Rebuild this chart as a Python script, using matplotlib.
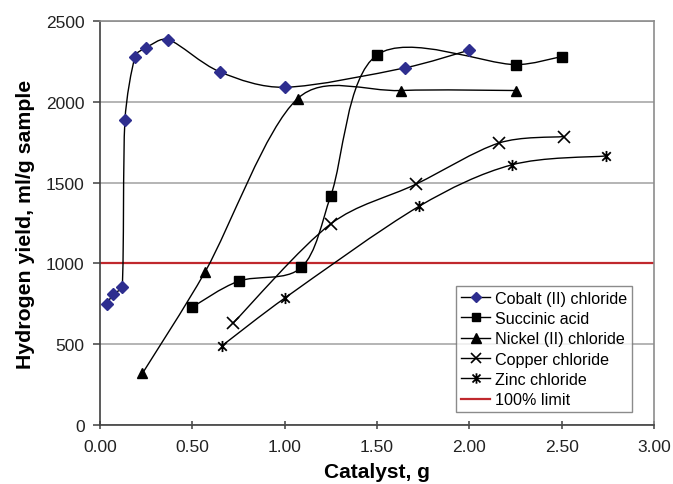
import numpy as np
import matplotlib
matplotlib.use("Agg")
import matplotlib.pyplot as plt
from matplotlib.path import Path
from matplotlib.patches import PathPatch
from matplotlib.lines import Line2D

plt.rcParams['font.family'] = ['Liberation Sans', 'DejaVu Sans']

# catalyst mass (g) vs hydrogen yield (ml/g sample)
cobalt_x = [0.04, 0.07, 0.12, 0.135, 0.19, 0.25, 0.37, 0.65, 1.00, 1.65, 2.00]
cobalt_y = [750, 810, 855, 1885, 2280, 2335, 2385, 2185, 2090, 2210, 2320]

succinic_x = [0.50, 0.75, 1.09, 1.25, 1.50, 2.25, 2.50]
succinic_y = [730, 890, 975, 1420, 2290, 2230, 2280]

nickel_x = [0.23, 0.57, 1.07, 1.63, 2.25]
nickel_y = [320, 950, 2020, 2070, 2070]

copper_x = [0.72, 1.25, 1.71, 2.16, 2.51]
copper_y = [630, 1245, 1490, 1745, 1785]

zinc_x = [0.66, 1.00, 1.73, 2.23, 2.74]
zinc_y = [490, 785, 1355, 1610, 1665]

limit_y = 1000

x_ticks = [0.0, 0.5, 1.0, 1.5, 2.0, 2.5, 3.0]
y_ticks = [0, 500, 1000, 1500, 2000, 2500]

# excel style "star" marker: an x with a vertical bar
star = Path([(-1, -1), (1, 1), (-1, 1), (1, -1), (0, -1.3), (0, 1.3)],
            [Path.MOVETO, Path.LINETO, Path.MOVETO, Path.LINETO, Path.MOVETO, Path.LINETO])

# rough pixel scale of the axes, used to keep the curve from looping
SX, SY = 554 / 3.0, 404 / 2500.0


def clamp(d, seg, k=0.35):
    dl = np.hypot(d[0] * SX, d[1] * SY)
    sl = np.hypot(seg[0] * SX, seg[1] * SY)
    if dl > k * sl and dl > 0:
        d = d * (k * sl / dl)
    return d


def smooth_path(xs, ys):
    # Catmull-Rom through the points, as cubic bezier segments
    p = np.column_stack([xs, ys]).astype(float)
    n = len(p)
    verts = [p[0]]
    codes = [Path.MOVETO]
    for i in range(n - 1):
        p0 = p[i - 1] if i > 0 else p[i]
        p3 = p[i + 2] if i + 2 < n else p[i + 1]
        seg = p[i + 1] - p[i]
        c1 = p[i] + clamp((p[i + 1] - p0) / 6, seg)
        c2 = p[i + 1] - clamp((p3 - p[i]) / 6, seg)
        verts += [c1, c2, p[i + 1]]
        codes += [Path.CURVE4] * 3
    return Path(verts, codes)


fig = plt.figure(figsize=(6.73, 4.85), dpi=100)
ax = fig.add_axes([0.1486, 0.1216, 0.8232, 0.833])

series = [
    ("Cobalt (II) chloride", cobalt_x, cobalt_y, dict(marker="D", color="#2e2e8f", markersize=6, mec="#2e2e8f")),
    ("Succinic acid", succinic_x, succinic_y, dict(marker="s", color="black", markersize=6.5)),
    ("Nickel (II) chloride", nickel_x, nickel_y, dict(marker="^", color="black", markersize=7)),
    ("Copper chloride", copper_x, copper_y, dict(marker="x", color="black", markersize=8, mew=1.2)),
    ("Zinc chloride", zinc_x, zinc_y, dict(marker=star, color="black", markersize=8, mew=1.3)),
]

handles = []
for label, xs, ys, st in series:
    ax.add_patch(PathPatch(smooth_path(xs, ys), fill=False, edgecolor="black", lw=1.0, zorder=3))
    ax.plot(xs, ys, linestyle="none", zorder=4, **st)
    handles.append(Line2D([], [], color="black", lw=1.0, label=label,
                          marker=st["marker"], markersize=st["markersize"] - 0.5,
                          markerfacecolor=st["color"], markeredgecolor=st["color"],
                          markeredgewidth=st.get("mew", 1.0)))

ax.axhline(limit_y, color="#c0282d", lw=1.6, zorder=2)
handles.append(Line2D([], [], color="#c0282d", lw=1.6, label="100% limit"))

ax.set_xlim(0, 3)
ax.set_ylim(0, 2500)
ax.set_xticks(x_ticks)
ax.set_xticklabels([f"{t:.2f}" for t in x_ticks])
ax.set_yticks(y_ticks)
ax.grid(axis="y", color="#a8a8a8", lw=1.2)
ax.set_axisbelow(True)

for side in ("top", "right"):
    ax.spines[side].set_color("#8c8c8c")
    ax.spines[side].set_linewidth(1.2)
for side in ("left", "bottom"):
    ax.spines[side].set_color("#404040")
    ax.spines[side].set_linewidth(1.2)

ax.tick_params(axis="x", direction="inout", length=6, width=1.1, color="#404040",
               labelsize=12.5, pad=7, labelcolor="#222222")
ax.tick_params(axis="y", direction="out", length=5, width=1.1, color="#404040",
               labelsize=12.5, pad=6, labelcolor="#222222")

ax.set_xlabel("Catalyst, g", fontsize=15, fontweight="bold", labelpad=6)
ax.set_ylabel("Hydrogen yield, ml/g sample", fontsize=15.3, fontweight="bold", labelpad=8)

leg = ax.legend(handles=handles, loc="lower left", bbox_to_anchor=(0.643, 0.032),
                fontsize=11.6, frameon=True, fancybox=False, edgecolor="#6e6e6e",
                handlelength=1.8, handletextpad=0.3, labelspacing=0.33,
                borderpad=0.3, borderaxespad=0)
leg.get_frame().set_linewidth(1.0)

fig.savefig("out.png", dpi=100)
